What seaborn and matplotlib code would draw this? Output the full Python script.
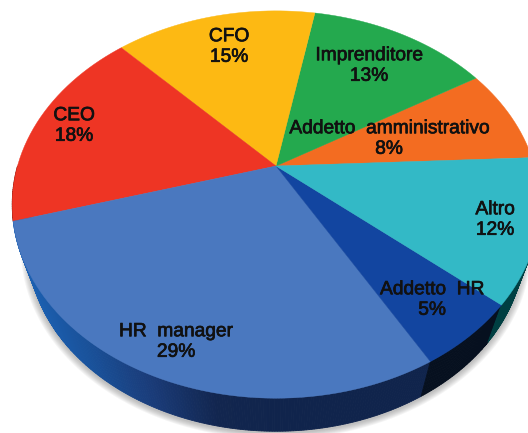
import numpy as np
import matplotlib
matplotlib.use("Agg")
import matplotlib.pyplot as plt
import matplotlib.patheffects as pe
from matplotlib.colors import LinearSegmentedColormap
from matplotlib.patches import Polygon
from matplotlib.transforms import Affine2D
import seaborn as sns

categories = ["Addetto  amministrativo", "Imprenditore", "CFO", "CEO", "HR  manager", "Addetto  HR", "Altro"]
shown_percent = [8, 13, 15, 18, 29, 5, 12]
slice_sizes = [8.0, 13.4, 14.9, 17.5, 28.7, 5.5, 12.0]
face_colors = ["#f36c21", "#24a94e", "#fdb913", "#ee3524", "#4a78bf", "#1245a0", "#33b9c6"]

sns.set_theme(style="white")
plt.rcParams["font.family"] = ["Liberation Sans", "DejaVu Sans"]

W, H = 528, 433
CX, CY = 276.0, 166.0
A, B, K = 186.0, 258.5, 0.199
START = 2.6
LOW_SX, LOW_SY, LOW_CY = 0.94, 0.955, 209.5


def project(x, y, sx=1.0, sy=1.0, cy=CY):
    w = 1 + K * y
    return CX + sx * B * x / w, cy - sy * A * y / w


fig, ax = plt.subplots(figsize=(W / 100, H / 100), dpi=100)
wedges, _ = ax.pie(slice_sizes, startangle=START, counterclock=True, colors=face_colors, radius=1)
polys = []
for wedge in wedges:
    up = Affine2D().scale(1000)
    pts = wedge.get_path().to_polygons(up)[0] / 1000
    polys.append((pts, wedge.get_facecolor(), wedge.theta1, wedge.theta2))
    wedge.remove()

ax.set_aspect("auto")
ax.set_xlim(0, W)
ax.set_ylim(H, 0)
ax.set_position([0, 0, 1, 1])
ax.axis("off")

# soft shadow around the base
t = np.radians(np.linspace(0, 360, 361))
bx, by = project(np.cos(t), np.sin(t), LOW_SX, LOW_SY, LOW_CY)
for grow in np.arange(7, 0, -1):
    sx = CX + (bx - CX) * (1 + grow / 245)
    sy = LOW_CY + (by - LOW_CY) * (1 + grow / 245) + 1.5
    ax.add_patch(Polygon(np.c_[sx, sy], closed=True, fc="#707070", ec="none", alpha=0.075, zorder=1))

# side wall
hr_side = LinearSegmentedColormap.from_list("hr", ["#1c62b4", "#19519a", "#1a3b78", "#12264f", "#10244c"])
side_solid = {"CEO": "#7a1a12", "Addetto  HR": "#06101f", "Altro": "#003f42"}
for (pts, fc, t1, t2), name in zip(polys, categories):
    if t2 < 180:
        continue
    angles = np.arange(max(t1, 180), t2 + 0.01, 0.5)
    angles = np.append(angles, t2)
    for a0, a1 in zip(angles[:-1], angles[1:]):
        r0, r1 = np.radians([a0, a1])
        tx0, ty0 = project(np.cos(r0), np.sin(r0))
        tx1, ty1 = project(np.cos(r1), np.sin(r1))
        lx0, ly0 = project(np.cos(r0), np.sin(r0), LOW_SX, LOW_SY, LOW_CY)
        lx1, ly1 = project(np.cos(r1), np.sin(r1), LOW_SX, LOW_SY, LOW_CY)
        col = side_solid.get(name) or hr_side(np.clip((tx0 - 20) / 260, 0, 1))
        ax.add_patch(Polygon([(tx0, ty0), (tx1, ty1), (lx1, ly1), (lx0, ly0)], closed=True,
                             fc=col, ec=col, lw=0.6, zorder=2))

# top face
for pts, fc, t1, t2 in polys:
    px, py = project(pts[:, 0], pts[:, 1])
    ax.add_patch(Polygon(np.c_[px, py], closed=True, fc=fc, ec=fc, lw=0.3, zorder=3))

label_xy = [(389, 139), (369, 66), (229, 47), (74, 126), (176, 342), (432, 300), (495, 220)]
for name, val, (lx, ly) in zip(categories, shown_percent, label_xy):
    ax.text(lx, ly, f"{name}\n{val}%", ha="center", va="center", fontsize=13.8, color="#111111",
            linespacing=1.27, zorder=5,
            path_effects=[pe.withStroke(linewidth=0.5, foreground="#111111")])

fig.savefig("out.png", dpi=100)
